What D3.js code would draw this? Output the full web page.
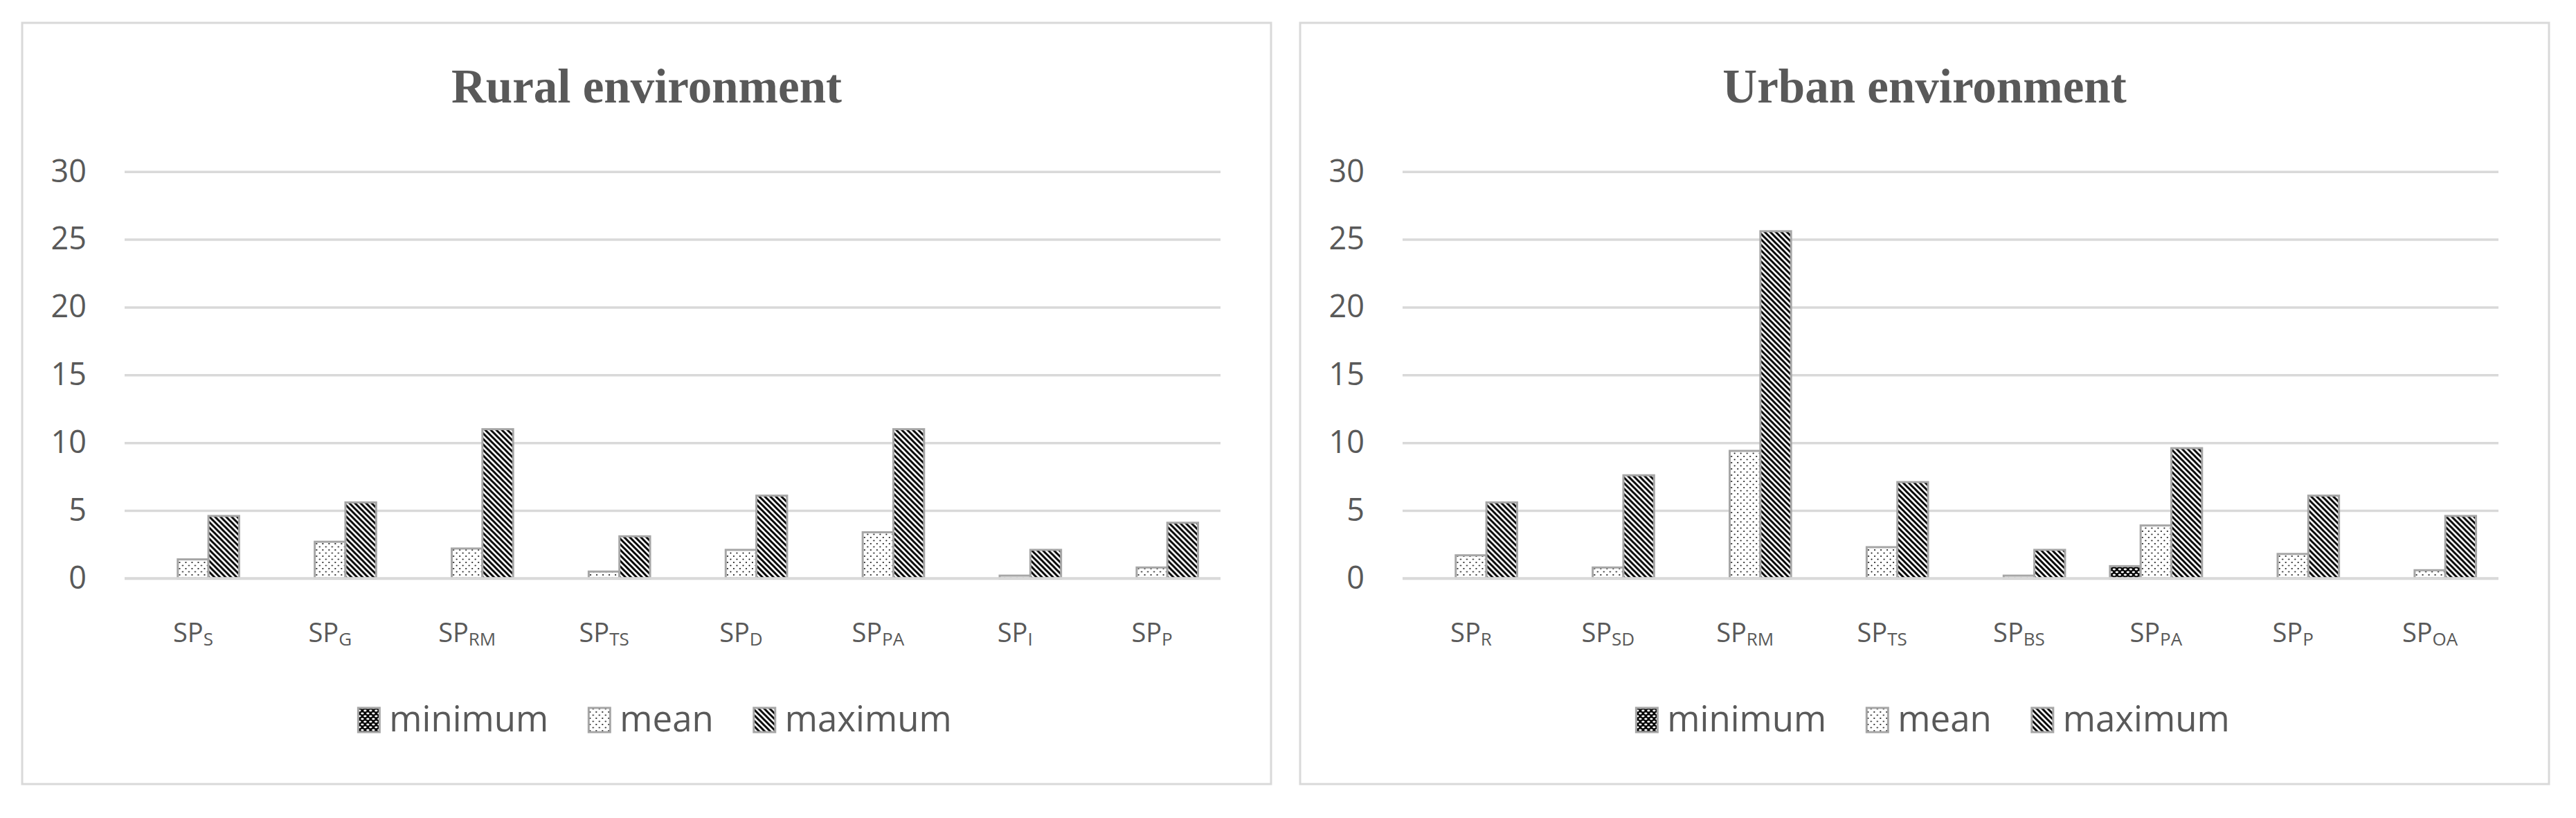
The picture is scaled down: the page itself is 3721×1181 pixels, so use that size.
<!DOCTYPE html>
<html>
<head>
<meta charset="utf-8">
<script src="https://cdn.jsdelivr.net/npm/d3@7"></script>
<style>
  html, body { margin: 0; padding: 0; background: #ffffff; }
  svg { display: block; }
</style>
</head>
<body>
<script>
// ---------- DATA ----------
const seriesNames = ["minimum", "mean", "maximum"];
const yTicks = [0, 5, 10, 15, 20, 25, 30];

const ruralTitle = "Rural environment";
const ruralCategories = ["S", "G", "RM", "TS", "D", "PA", "I", "P"]; // subscripts of "SP"
const ruralMin  = [0, 0, 0, 0, 0, 0, 0, 0];
const ruralMean = [1.4, 2.7, 2.2, 0.5, 2.1, 3.4, 0.2, 0.8];
const ruralMax  = [4.6, 5.6, 11, 3.1, 6.1, 11, 2.1, 4.1];

const urbanTitle = "Urban environment";
const urbanCategories = ["R", "SD", "RM", "TS", "BS", "PA", "P", "OA"];
const urbanMin  = [0, 0, 0, 0, 0, 0.9, 0, 0];
const urbanMean = [1.7, 0.8, 9.4, 2.3, 0.2, 3.9, 1.8, 0.6];
const urbanMax  = [5.6, 7.6, 25.6, 7.1, 2.1, 9.6, 6.1, 4.6];

// ---------- LAYOUT ----------
const W = 3721, H = 1181;
const svg = d3.select("body").append("svg").attr("width", W).attr("height", H);

const defs = svg.append("defs");
// minimum: black with white dots
const pMin = defs.append("pattern").attr("id", "pat-min").attr("patternUnits", "userSpaceOnUse")
  .attr("width", 8).attr("height", 8);
pMin.append("rect").attr("width", 8).attr("height", 8).attr("fill", "#000");
pMin.append("ellipse").attr("cx", 2).attr("cy", 2).attr("rx", 2.2).attr("ry", 1.4).attr("fill", "#fff");
pMin.append("ellipse").attr("cx", 6).attr("cy", 6).attr("rx", 2.2).attr("ry", 1.4).attr("fill", "#fff");
// mean: white with sparse black dots
const pMean = defs.append("pattern").attr("id", "pat-mean").attr("patternUnits", "userSpaceOnUse")
  .attr("width", 9).attr("height", 9);
pMean.append("rect").attr("width", 9).attr("height", 9).attr("fill", "#fff");
pMean.append("circle").attr("cx", 2).attr("cy", 2).attr("r", 1.0).attr("fill", "#000");
pMean.append("circle").attr("cx", 6.5).attr("cy", 6.5).attr("r", 1.0).attr("fill", "#000");
// maximum: white with black downward diagonals
const pMax = defs.append("pattern").attr("id", "pat-max").attr("patternUnits", "userSpaceOnUse")
  .attr("width", 8).attr("height", 8);
pMax.append("rect").attr("width", 8).attr("height", 8).attr("fill", "#fff");
pMax.append("path").attr("d", "M-1,-1 L9,9 M-1,7 L1,9 M7,-1 L9,1")
  .attr("stroke", "#000").attr("stroke-width", 3).attr("fill", "none");

const fills = { minimum: "url(#pat-min)", mean: "url(#pat-mean)", maximum: "url(#pat-max)" };

const textColor = "#595959";
const sansFont = "'Open Sans', 'Noto Sans', sans-serif";

function drawPanel(px, title, cats, mins, means, maxs) {
  const py = 33, pw = 1804, ph = 1099;
  const g = svg.append("g");
  g.append("rect").attr("x", px).attr("y", py).attr("width", pw).attr("height", ph)
    .attr("fill", "#fff").attr("stroke", "#d9d9d9").attr("stroke-width", 3);

  const cx = px + pw / 2;
  g.append("text").attr("x", cx).attr("y", 148).attr("text-anchor", "middle")
    .attr("font-family", "'Liberation Serif', 'Times New Roman', serif")
    .attr("font-weight", "bold").attr("font-size", 69).attr("fill", textColor)
    .text(title);

  const left = px + 148, right = px + pw - 73;
  const y = d3.scaleLinear().domain([0, 30]).range([835, 247.7]);
  const x = d3.scaleBand().domain(cats).range([left, right]).paddingInner(0.328).paddingOuter(0.164);
  const xs = d3.scaleBand().domain(seriesNames).range([0, x.bandwidth()]);

  // gridlines via axis
  const yAxis = d3.axisLeft(y).tickValues(yTicks).tickSize(-(right - left)).tickPadding(55);
  const ax = g.append("g").attr("transform", `translate(${left},0)`).call(yAxis);
  ax.select(".domain").remove();
  ax.selectAll(".tick line").attr("stroke", "#d9d9d9").attr("stroke-width", 3.5);
  ax.selectAll(".tick text").attr("font-family", sansFont).attr("font-size", 45)
    .attr("fill", textColor).attr("dy", "0.32em");

  // bars
  const rows = cats.map((c, i) => ({ cat: c, values: [
    { s: "minimum", v: mins[i] }, { s: "mean", v: means[i] }, { s: "maximum", v: maxs[i] }] }));
  const grp = g.append("g").selectAll("g").data(rows).join("g")
    .attr("transform", d => `translate(${x(d.cat)},0)`);
  grp.selectAll("rect").data(d => d.values.filter(v => v.v > 0)).join("rect")
    .attr("x", d => xs(d.s)).attr("width", xs.bandwidth())
    .attr("y", d => y(d.v)).attr("height", d => y(0) - y(d.v))
    .attr("fill", d => fills[d.s]).attr("stroke", "#a6a6a6").attr("stroke-width", 3);

  // baseline gridline on top
  g.append("line").attr("x1", left).attr("x2", right).attr("y1", y(0)).attr("y2", y(0))
    .attr("stroke", "#d9d9d9").attr("stroke-width", 3.5);

  // category labels
  const xa = d3.axisBottom(x).tickSize(0).tickFormat(() => "");
  const xg = g.append("g").attr("transform", `translate(0,${y(0)})`).call(xa);
  xg.select(".domain").remove();
  xg.selectAll(".tick").each(function(c) {
    const t = d3.select(this).append("text").attr("y", 92).attr("text-anchor", "middle")
      .attr("font-family", sansFont).attr("fill", textColor).attr("font-size", 38);
    t.append("tspan").text("SP");
    t.append("tspan").attr("font-size", 26).attr("dy", 5).text(c);
  });

  // legend
  const lg = g.append("g");
  let cur = 0;
  const items = [];
  seriesNames.forEach((s, i) => {
    const it = lg.append("g");
    it.append("rect").attr("x", 0).attr("y", 1022).attr("width", 31).attr("height", 35)
      .attr("fill", fills[s]).attr("stroke", "#a6a6a6").attr("stroke-width", 3);
    const tx = it.append("text").attr("x", 45).attr("y", 1056)
      .attr("font-family", sansFont).attr("font-size", 51).attr("fill", textColor).text(s);
    const tw = tx.node().getComputedTextLength();
    items.push({ it, off: cur });
    cur += 45 + tw + (i < seriesNames.length - 1 ? 58 : 0);
  });
  const start = cx + 12 - cur / 2;
  items.forEach(d => d.it.attr("transform", `translate(${start + d.off},0)`));
}

drawPanel(32, ruralTitle, ruralCategories, ruralMin, ruralMean, ruralMax);
drawPanel(1878, urbanTitle, urbanCategories, urbanMin, urbanMean, urbanMax);
</script>
</body>
</html>
